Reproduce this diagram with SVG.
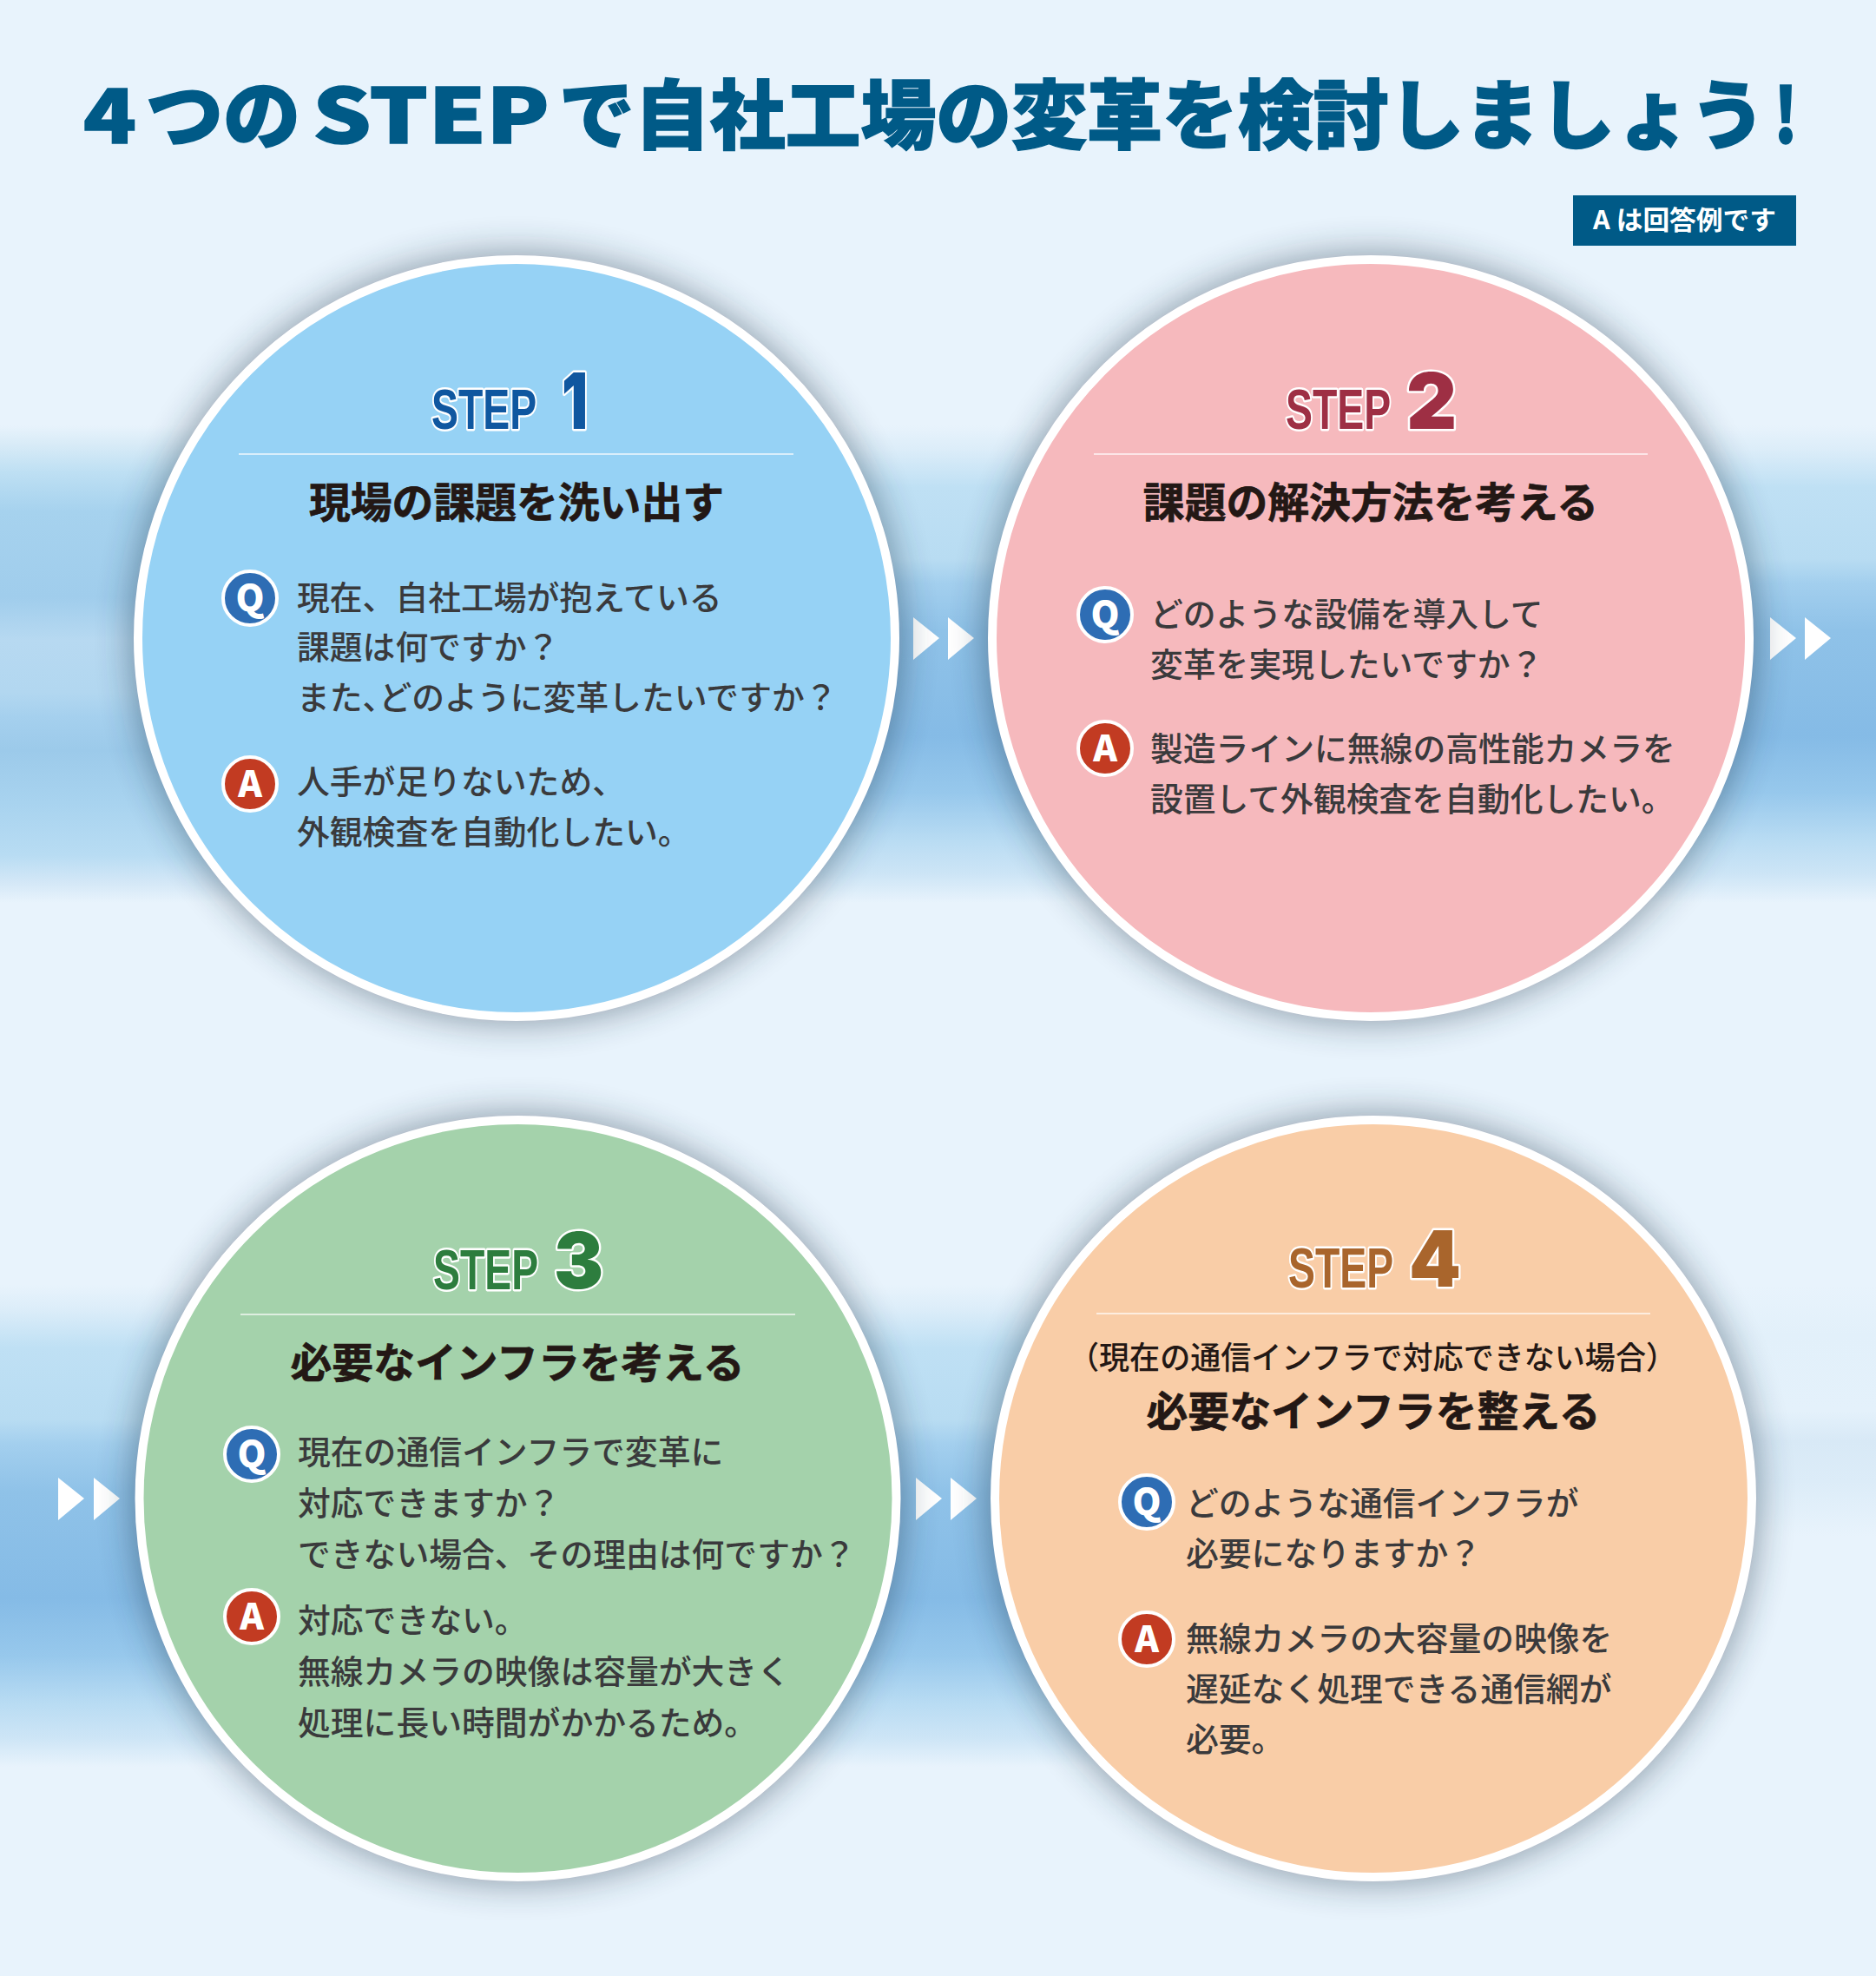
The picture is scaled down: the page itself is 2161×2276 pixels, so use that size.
<svg xmlns="http://www.w3.org/2000/svg" width="2161" height="2276" viewBox="0 0 2161 2276">
<style>
text{font-family:"Noto Sans CJK JP","Noto Sans",sans-serif}
.ttl{font-size:87px;font-weight:900;fill:#005a87;stroke:#005a87;stroke-width:1.5px}
.body{font-size:37.8px;font-weight:500;fill:#3a3a3c}
.halt{font-feature-settings:"halt"}
.head{font-size:47.8px;font-weight:700;fill:#231815;stroke:#231815;stroke-width:.7px;text-anchor:middle}
.step{font-family:"Liberation Sans",sans-serif;font-weight:700;font-size:64px;paint-order:stroke;stroke:#fff;stroke-width:5px;stroke-linejoin:round}
.num{font-family:Inter,"Noto Sans",sans-serif;font-weight:900;font-size:90px;paint-order:stroke;stroke:#fff;stroke-width:5px;stroke-linejoin:round}
.rule{stroke:#fff;stroke-width:1.5;opacity:.85}
.ring{stroke:#fff;stroke-width:10}
.shadow{fill:#1d3344;opacity:.45;filter:url(#blur)}
.mark{stroke:#fff;stroke-width:4}
.letter{font-weight:900;font-size:42px;fill:#fff;text-anchor:middle}
.q{fill:#2e6db4}.a{fill:#c23b22}
.arrow{fill:#fff}
</style>
<defs>
<filter id="blur" x="-20%" y="-20%" width="140%" height="140%"><feGaussianBlur stdDeviation="20"/></filter>
<linearGradient id="bandB" x1="0" y1="0" x2="0" y2="1">
<stop offset="0" stop-color="#e8f3fc"/>
<stop offset=".05" stop-color="#dcedf9"/>
<stop offset=".13" stop-color="#bfe0f4"/>
<stop offset=".28" stop-color="#b8dcf2"/>
<stop offset=".33" stop-color="#a3cfee"/>
<stop offset=".43" stop-color="#8fc2e8"/>
<stop offset=".65" stop-color="#85bbe6"/>
<stop offset=".77" stop-color="#97c8ec"/>
<stop offset=".87" stop-color="#b9dcf3"/>
<stop offset=".94" stop-color="#cde5f6"/>
<stop offset="1" stop-color="#e8f3fc"/>
</linearGradient>
<linearGradient id="bandA" x1="0" y1="0" x2="0" y2="1">
<stop offset="0" stop-color="#e8f3fc"/>
<stop offset=".04" stop-color="#d8ebf7"/>
<stop offset=".1" stop-color="#bddff3"/>
<stop offset=".18" stop-color="#a6d2ee"/>
<stop offset=".36" stop-color="#a0cdec"/>
<stop offset=".45" stop-color="#b7d9f1"/>
<stop offset=".56" stop-color="#b2d7f0"/>
<stop offset=".61" stop-color="#a5d0ee"/>
<stop offset=".68" stop-color="#9ccaea"/>
<stop offset=".79" stop-color="#a8d3ef"/>
<stop offset=".9" stop-color="#b8dcf3"/>
<stop offset=".96" stop-color="#d5e8f7"/>
<stop offset="1" stop-color="#e8f3fc"/>
</linearGradient>
<linearGradient id="bandC" x1="0" y1="0" x2="0" y2="1">
<stop offset="0" stop-color="#e8f3fc"/>
<stop offset=".2" stop-color="#e2f0fa"/>
<stop offset=".5" stop-color="#e4f1fb"/>
<stop offset=".62" stop-color="#d8e9f6"/>
<stop offset=".78" stop-color="#dcecf8"/>
<stop offset="1" stop-color="#e8f3fc"/>
</linearGradient>
</defs>
<rect id="background" width="2161" height="2276" fill="#e8f3fc"/>
<rect x="0" y="490" width="2161" height="550" fill="url(#bandB)"/>
<rect x="0" y="490" width="595" height="550" fill="url(#bandA)"/>
<rect x="0" y="1480" width="2161" height="555" fill="url(#bandB)"/>
<rect x="1582" y="1480" width="579" height="555" fill="#e8f3fc"/>
<rect x="1582" y="1480" width="579" height="290" fill="url(#bandC)"/>
<g id="title">
<text class="ttl" x="96" y="165" textLength="61" lengthAdjust="spacingAndGlyphs">4</text>
<text class="ttl" x="168" y="165" textLength="178" lengthAdjust="spacingAndGlyphs">つの</text>
<text class="ttl" x="360" y="165" textLength="273" lengthAdjust="spacingAndGlyphs">STEP</text>
<text class="ttl" x="644" y="165" textLength="1390" lengthAdjust="spacingAndGlyphs">で自社工場の変革を検討しましょう</text>
<text class="ttl" x="2043" y="165" textLength="28" lengthAdjust="spacingAndGlyphs">!</text>
<rect x="1812" y="225" width="257" height="58" fill="#005a87"/>
<text x="1835" y="264" font-size="30" font-weight="700" fill="#fff" textLength="211" lengthAdjust="spacingAndGlyphs">A は回答例です</text>
</g>
<g id="connectors">
<path class="arrow" d="M1052 711L1082 735L1052 760ZM1092 711L1122 735L1092 760Z"/>
<path class="arrow" d="M2039 711L2069 735L2039 760ZM2079 711L2109 735L2079 760Z"/>
<path class="arrow" d="M67 1702L97 1726L67 1751ZM108 1702L138 1726L108 1751Z"/>
<path class="arrow" d="M1055 1702L1085 1726L1055 1751ZM1095 1702L1125 1726L1095 1751Z"/>
</g>
<g id="step1">
<circle class="shadow" cx="595" cy="735" r="444"/>
<circle class="ring" cx="595" cy="735" r="436" fill="#96d2f5"/>
<text class="step" transform="translate(497 494) scale(.725 1)" fill="#0f57a0">STEP</text>
<text class="num" transform="translate(647 494) scale(.74 1)" fill="#0f57a0">1</text>
<line class="rule" x1="275" y1="523" x2="914" y2="523"/>
<text class="head" x="595" y="596">現場の課題を洗い出す</text>
<circle class="mark q" cx="288" cy="689" r="31"/><text class="letter" x="288" y="704">Q</text>
<text class="body" x="342" y="702">現在、自社工場が抱えている</text>
<text class="body" x="342" y="759">課題は何ですか？</text>
<text class="body" x="342" y="817">また<tspan class="halt">、</tspan>どのように変革したいですか？</text>
<circle class="mark a" cx="288" cy="903" r="31"/><text class="letter" x="288" y="918">A</text>
<text class="body" x="342" y="914">人手が足りないため、</text>
<text class="body" x="342" y="972">外観検査を自動化したい。</text>
</g>
<g id="step2">
<circle class="shadow" cx="1579" cy="735" r="444"/>
<circle class="ring" cx="1579" cy="735" r="436" fill="#f6b9bd"/>
<text class="step" transform="translate(1481 494) scale(.725 1)" fill="#9e2f44">STEP</text>
<text class="num" x="1620" y="494" fill="#9e2f44">2</text>
<line class="rule" x1="1260" y1="523" x2="1898" y2="523"/>
<text class="head" x="1579" y="596">課題の解決方法を考える</text>
<circle class="mark q" cx="1273" cy="708" r="31"/><text class="letter" x="1273" y="723">Q</text>
<text class="body" x="1325" y="721">どのような設備を導入して</text>
<text class="body" x="1325" y="779">変革を実現したいですか？</text>
<circle class="mark a" cx="1273" cy="862" r="31"/><text class="letter" x="1273" y="877">A</text>
<text class="body" x="1325" y="876">製造ラインに無線の高性能カメラを</text>
<text class="body" x="1325" y="934">設置して外観検査を自動化したい。</text>
</g>
<g id="step3">
<circle class="shadow" cx="596.500" cy="1726" r="444"/>
<circle class="ring" cx="596.500" cy="1726" r="436" fill="#a4d2ab"/>
<text class="step" transform="translate(499 1485) scale(.725 1)" fill="#2d7d3e">STEP</text>
<text class="num" transform="translate(638 1484) scale(.95 1)" fill="#2d7d3e">3</text>
<line class="rule" x1="277" y1="1514" x2="916" y2="1514"/>
<text class="head" x="596" y="1587">必要なインフラを考える</text>
<circle class="mark q" cx="290" cy="1675" r="31"/><text class="letter" x="290" y="1690">Q</text>
<text class="body" x="343" y="1686">現在の通信インフラで変革に</text>
<text class="body" x="343" y="1745">対応できますか？</text>
<text class="body" x="343" y="1804">できない場合、その理由は何ですか？</text>
<circle class="mark a" cx="290" cy="1862" r="31"/><text class="letter" x="290" y="1877">A</text>
<text class="body" x="343" y="1880">対応できない。</text>
<text class="body" x="343" y="1939">無線カメラの映像は容量が大きく</text>
<text class="body" x="343" y="1998">処理に長い時間がかかるため。</text>
</g>
<g id="step4">
<circle class="shadow" cx="1582" cy="1726" r="444"/>
<circle class="ring" cx="1582" cy="1726" r="436" fill="#f9cda7"/>
<text class="step" transform="translate(1484 1483) scale(.725 1)" fill="#a9652c">STEP</text>
<text class="num" transform="translate(1623 1482) scale(.95 1)" fill="#a9652c">4</text>
<line class="rule" x1="1263" y1="1513" x2="1901" y2="1513"/>
<text x="1581" y="1577" font-size="36" font-weight="500" fill="#231815" text-anchor="middle" textLength="700" lengthAdjust="spacingAndGlyphs">（現在の通信インフラで対応できない場合）</text>
<text class="head" x="1582" y="1643">必要なインフラを整える</text>
<circle class="mark q" cx="1321" cy="1730" r="31"/><text class="letter" x="1321" y="1745">Q</text>
<text class="body" x="1366" y="1745">どのような通信インフラが</text>
<text class="body" x="1366" y="1803">必要になりますか？</text>
<circle class="mark a" cx="1321" cy="1888" r="31"/><text class="letter" x="1321" y="1903">A</text>
<text class="body" x="1366" y="1901">無線カメラの大容量の映像を</text>
<text class="body" x="1366" y="1959">遅延なく処理できる通信網が</text>
<text class="body" x="1366" y="2017">必要。</text>
</g>
</svg>
